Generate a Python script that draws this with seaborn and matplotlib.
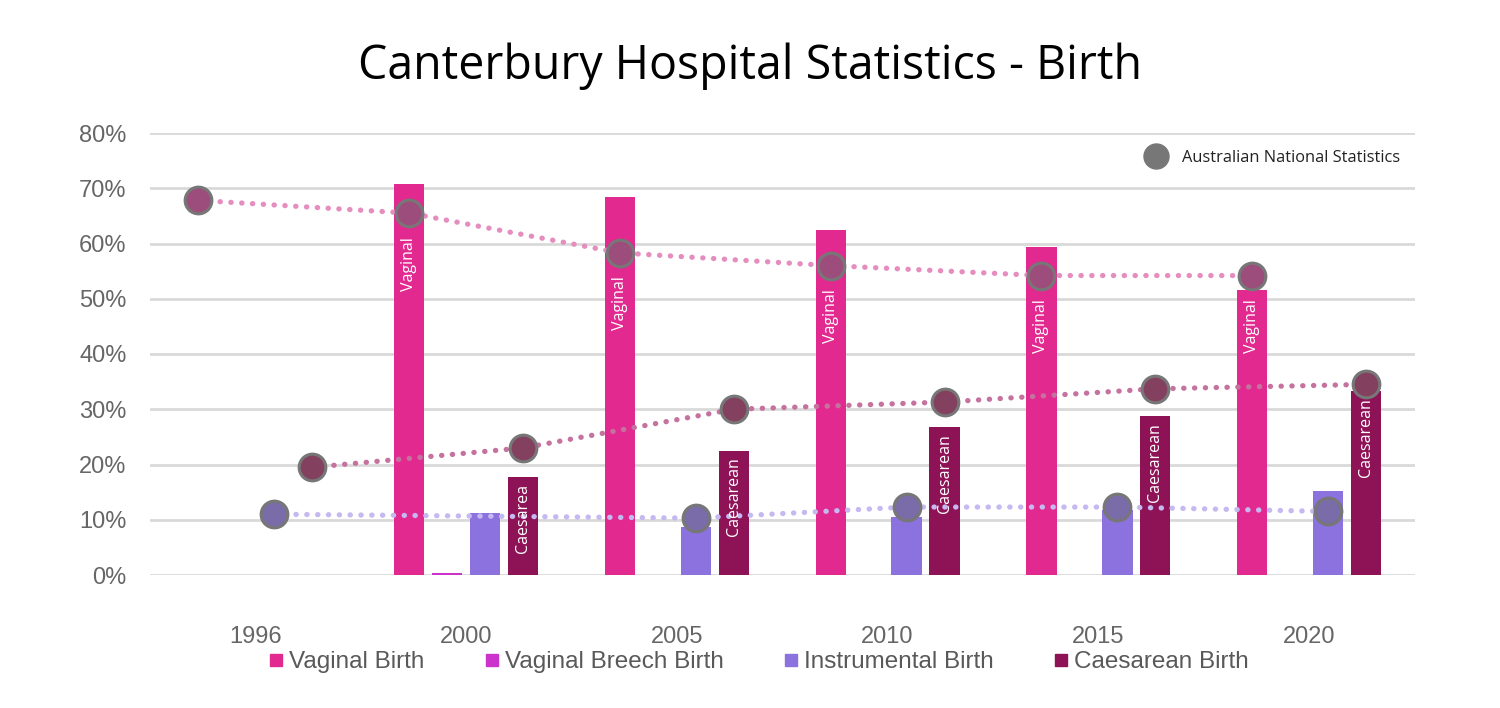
import matplotlib
matplotlib.use("Agg")
import matplotlib.pyplot as plt
import seaborn as sns
import pandas as pd
import numpy as np
from matplotlib.lines import Line2D

# ---------------- data ----------------
years = ["1996", "2000", "2005", "2010", "2015", "2020"]
birth_types = ["Vaginal Birth", "Vaginal Breech Birth", "Instrumental Birth", "Caesarean Birth"]
vaginal = [np.nan, 70.7, 68.5, 62.5, 59.3, 51.5]
breech = [np.nan, 0.4, 0.0, 0.0, 0.0, 0.0]
instrumental = [np.nan, 11.3, 8.7, 10.5, 11.8, 15.2]
caesarean = [np.nan, 17.8, 22.5, 26.8, 28.8, 33.3]

nat_vaginal = [67.8, 65.5, 58.3, 56.0, 54.2, 54.2]
nat_instrumental = [11.0, np.nan, 10.3, 12.3, 12.3, 11.5]
nat_caesarean = [19.5, 23.0, 30.0, 31.3, 33.7, 34.5]

vaginal_labels = ["", "Vaginal", "Vaginal", "Vaginal", "Vaginal", "Vaginal"]
caesarean_labels = ["", "Caesarea", "Caesarean", "Caesarean", "Caesarean", "Caesarean"]

colors = ["#e2298f", "#cc33cc", "#8b72de", "#8e1256"]
nat_line_colors = {"vag": "#e58dbf", "ins": "#c6b8f0", "cae": "#c5729f"}
nat_fill_colors = {"vag": "#9c4d7c", "ins": "#7a6ca8", "cae": "#83405f"}

# ---------------- figure ----------------
sns.set_theme(style="white")
plt.rcParams["font.family"] = ["Liberation Sans", "DejaVu Sans"]

fig = plt.figure(figsize=(15, 7.08), dpi=100)
ax = fig.add_axes([0.1, 1 - 575 / 708, 0.843, (575 - 133) / 708])

rows = []
for t, vals in zip(birth_types, [vaginal, breech, instrumental, caesarean]):
    for y, v in zip(years, vals):
        rows.append({"Year": y, "Type": t, "Value": v})
df = pd.DataFrame(rows)

group_w = 0.72
sns.barplot(data=df, x="Year", y="Value", hue="Type", order=years, hue_order=birth_types,
            palette=colors, width=group_w, gap=0.2, ax=ax, errorbar=None,
            linewidth=0, saturation=1, legend=False, zorder=2)

slot = group_w / len(birth_types)
def offs(k):
    return (-1.5 + k) * slot

xs = np.arange(len(years))
label_font = dict(rotation=90, ha="center", va="top", color="white", fontsize=11.5,
                  family=["Open Sans", "DejaVu Sans"], zorder=5, textcoords="offset points")

# in-bar labels
for i in range(len(years)):
    if vaginal_labels[i]:
        ax.annotate(vaginal_labels[i], xy=(xs[i] + offs(0), nat_vaginal[i]),
                    xytext=(0, -17), **label_font)
    if caesarean_labels[i]:
        ax.annotate(caesarean_labels[i], xy=(xs[i] + offs(3), caesarean[i]),
                    xytext=(0, -5), **label_font)

# national statistics dotted lines + dots
def nat_series(vals, k, key):
    v = np.array(vals, dtype=float)
    x = xs + offs(k)
    m = ~np.isnan(v)
    ax.plot(x[m], v[m], color=nat_line_colors[key], lw=3.8,
            linestyle=(0, (0.05, 2.0)), dash_capstyle="round", zorder=3)
    sns.scatterplot(x=x[m], y=v[m], s=370, color=nat_fill_colors[key],
                    edgecolor="#777777", linewidth=2.2, ax=ax, zorder=4, legend=False)

nat_series(nat_vaginal, 0, "vag")
nat_series(nat_caesarean, 3, "cae")
nat_series(nat_instrumental, 2, "ins")

# axes styling
ax.set_xlim(-0.5, 5.5)
ax.set_ylim(0, 80)
ax.set_yticks(np.arange(0, 81, 10))
ax.set_yticklabels([f"{v}%" for v in range(0, 81, 10)])
ax.yaxis.grid(True, color="#d9d9d9", linewidth=2)
ax.set_axisbelow(True)
for s in ax.spines.values():
    s.set_visible(False)
ax.set_xlabel("")
ax.set_ylabel("")
ax.tick_params(axis="x", length=0, pad=37, labelsize=17, labelcolor="#666666")
ax.tick_params(axis="y", length=0, pad=17, labelsize=17, labelcolor="#666666")

# title
fig.text(0.5, 1 - 66 / 708, "Canterbury Hospital Statistics - Birth", ha="center", va="center",
         fontsize=33.5, family=["Open Sans", "DejaVu Sans"], color="black")

# bottom legend
handles = [Line2D([], [], marker="s", linestyle="none", markersize=8, color=c) for c in colors]
fig.legend(handles, birth_types, loc="center", bbox_to_anchor=(0.505, 1 - 662 / 708), ncol=4,
           frameon=False, fontsize=17.5, labelcolor="#595959", handletextpad=0.15,
           columnspacing=2.35, handlelength=0.8)

# top-right legend for national stats
nat_handle = Line2D([], [], marker="o", linestyle="none", markersize=18, color="#777777")
ax.legend([nat_handle], ["Australian National Statistics"], loc="upper right",
          bbox_to_anchor=(1.0, 0.995), frameon=False, handletextpad=0.55,
          prop={"family": ["Open Sans", "DejaVu Sans"], "size": 11.8}, labelcolor="#222222")

fig.savefig("out.png", dpi=100, facecolor="white")
